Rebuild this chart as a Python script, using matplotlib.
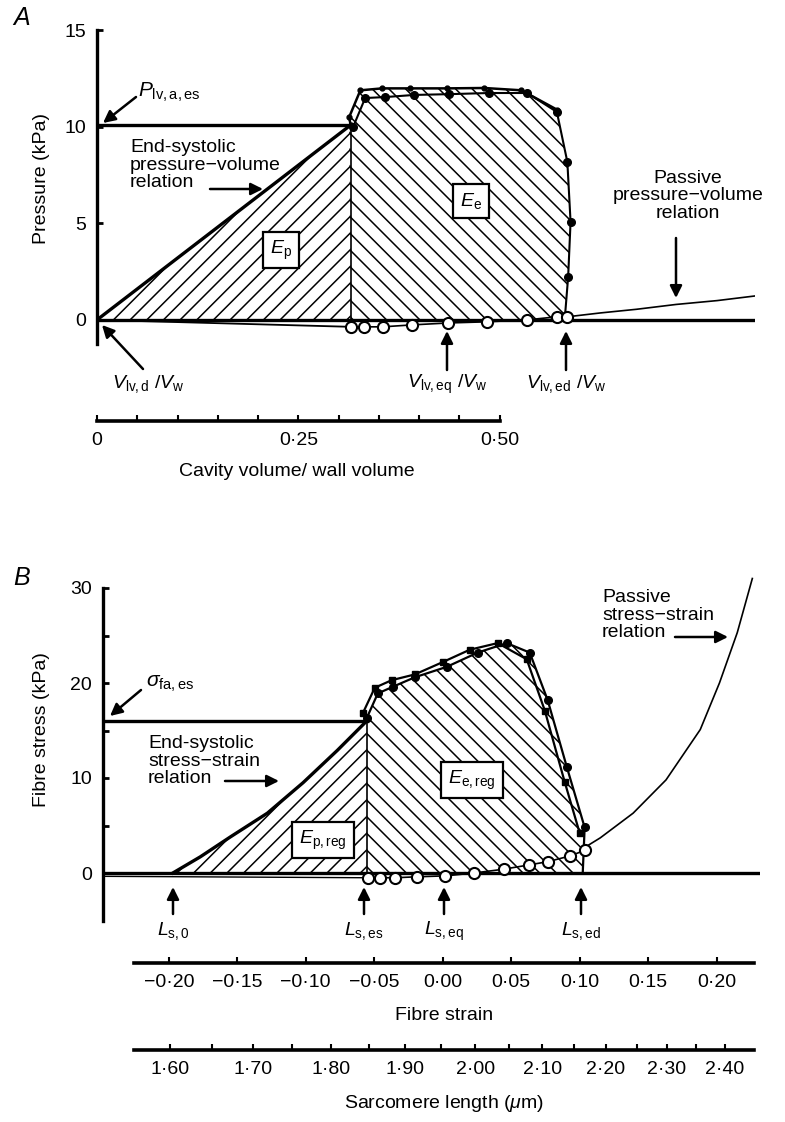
import numpy as np
import matplotlib
matplotlib.use('Agg')
import matplotlib.pyplot as plt

plt.rcParams['font.family'] = ['Liberation Sans', 'DejaVu Sans']
plt.rcParams['mathtext.fontset'] = 'custom'
plt.rcParams['mathtext.rm'] = 'Liberation Sans'
plt.rcParams['mathtext.it'] = 'Liberation Sans:italic'
plt.rcParams['mathtext.bf'] = 'Liberation Sans:bold'
plt.rcParams['hatch.linewidth'] = 1.1

# ---------------- Panel A data (cavity volume / wall volume, pressure kPa)
a_es_vol = [0.0, 0.315]
a_es_p = [0.0, 10.1]
a_p_es = 10.1
a_fill_line_vol = [0.0, 0.3155]
a_fill_line_p = [0.0, -0.36]
a_ej1_vol = [0.318, 0.333, 0.358, 0.394, 0.437, 0.487, 0.534, 0.571, 0.584, 0.588, 0.585, 0.581]
a_ej1_p = [10.0, 11.5, 11.55, 11.66, 11.7, 11.76, 11.76, 10.78, 8.19, 5.08, 2.23, 0.16]
a_ej2_vol = [0.315, 0.313, 0.327, 0.354, 0.389, 0.434, 0.481, 0.527, 0.571]
a_ej2_p = [10.1, 10.5, 11.9, 12.0, 12.0, 12.0, 12.02, 11.9, 10.9]
a_open_vol = [0.3155, 0.332, 0.355, 0.391, 0.436, 0.484, 0.534, 0.571, 0.584]
a_open_p = [-0.36, -0.36, -0.36, -0.26, -0.16, -0.1, 0.0, 0.16, 0.16]
a_pass_vol = [0.584, 0.625, 0.67, 0.719, 0.77, 0.817]
a_pass_p = [0.16, 0.36, 0.55, 0.8, 1.0, 1.24]
a_xticks = [0.0, 0.25, 0.50]
a_xticklabels = ['0', '0·25', '0·50']
a_yticks = [0, 5, 10, 15]

# ---------------- Panel B data (fibre strain, fibre stress kPa)
b_es_strain = [-0.197, -0.177, -0.155, -0.128, -0.102, -0.077, -0.0555]
b_es_stress = [0.0, 1.7, 3.8, 6.3, 9.5, 12.9, 16.0]
b_sig_es = 16.0
b_fill_line_strain = [-0.248, -0.0547]
b_fill_line_stress = [-0.35, -0.5]
b_ej1_strain = [-0.0555, -0.0474, -0.0365, -0.0204, 0.0029, 0.0255, 0.0467, 0.0635, 0.0766, 0.0905, 0.1036, 0.1022]
b_ej1_stress = [16.3, 18.9, 19.6, 20.6, 21.7, 23.2, 24.2, 23.2, 18.2, 11.2, 4.8, 0.0]
b_ej2_strain = [-0.0584, -0.0496, -0.0372, -0.0204, 0.0, 0.0197, 0.0401, 0.0613, 0.0745, 0.089, 0.100]
b_ej2_stress = [16.8, 19.5, 20.3, 20.9, 22.2, 23.5, 24.2, 22.5, 17.1, 9.6, 4.2]
b_open_strain = [-0.0547, -0.046, -0.035, -0.019, 0.002, 0.023, 0.0445, 0.063, 0.077, 0.093, 0.104]
b_open_stress = [-0.5, -0.5, -0.5, -0.4, -0.3, 0.0, 0.4, 0.85, 1.2, 1.8, 2.4]
b_pass_strain = [0.106, 0.115, 0.139, 0.163, 0.188, 0.202, 0.215, 0.226]
b_pass_stress = [2.9, 3.7, 6.3, 9.8, 15.1, 20.0, 25.3, 31.0]
b_strain_ticks = [-0.20, -0.15, -0.10, -0.05, 0.00, 0.05, 0.10, 0.15, 0.20]
b_strain_labels = ['−0·20', '−0·15', '−0·10', '−0·05', '0·00', '0·05', '0·10', '0·15', '0·20']
b_sarc_ticks = [1.60, 1.65, 1.70, 1.75, 1.80, 1.85, 1.90, 1.95, 2.00, 2.05,
                2.10, 2.15, 2.20, 2.25, 2.30, 2.35, 2.40]
b_sarc_labels = ['1·60', '', '1·70', '', '1·80', '', '1·90', '', '2·00', '',
                 '2·10', '', '2·20', '', '2·30', '', '2·40']
b_yticks = [0, 5, 10, 15, 20, 25, 30]
b_yticklabels = ['0', '', '10', '', '20', '', '30']
sarc_ref = 1.953  # sarcomere length at zero fibre strain (µm)

W, H = 785, 1122
fig = plt.figure(figsize=(W / 100, H / 100), dpi=100)
FS = 14


def P(x, y):
    return (x / W, 1 - y / H)


def arrow(x0, y0, x1, y1):
    fig.add_artist(matplotlib.patches.FancyArrowPatch(
        P(x0, y0), P(x1, y1), transform=fig.transFigure,
        arrowstyle='-|>', mutation_scale=18, lw=1.8, color='k',
        shrinkA=0, shrinkB=0))


def txt(x, y, s, **kw):
    kw.setdefault('fontsize', FS)
    fig.text(*P(x, y), s, **kw)


box = dict(boxstyle='square,pad=0.35', fc='white', ec='black', lw=1.6)

# =============== Panel A ===============
axA = fig.add_axes([97 / W, 1 - 344 / H, 658 / W, (344 - 30.5) / H])
axA.set_xlim(0, 0.817)
axA.set_ylim(-1.25, 15)
for s in ['top', 'right']:
    axA.spines[s].set_visible(False)
axA.spines['left'].set_linewidth(2.4)
axA.spines['left'].set_bounds(-1.25, 15)
axA.spines['bottom'].set_linewidth(2.6)
axA.spines['bottom'].set_position(('outward', 55.4))
axA.spines['bottom'].set_bounds(0, 0.5)
axA.set_xticks(a_xticks)
axA.set_xticklabels(a_xticklabels)
axA.set_xticks(np.arange(0, 0.501, 0.05), minor=True)
axA.set_yticks(a_yticks)
axA.tick_params(axis='x', which='both', direction='in', length=4, width=1.5, labelsize=FS, pad=8)
axA.tick_params(axis='y', direction='in', length=4, width=2, labelsize=FS, pad=8)

axA.fill(a_es_vol + [a_es_vol[-1]], a_es_p + [0], facecolor='none', edgecolor='k',
         hatch='//', linewidth=0, zorder=1)
axA.fill([a_es_vol[-1]] + a_ej2_vol[1:] + a_ej1_vol[-4:] + [a_ej1_vol[-1]],
         [0] + a_ej2_p[1:] + a_ej1_p[-4:] + [0], facecolor='none', edgecolor='k',
         hatch='\\\\', linewidth=0, zorder=1)
axA.plot([0, 0.817], [0, 0], color='k', lw=2.4, zorder=2)
axA.plot([0, a_es_vol[-1]], [a_p_es, a_p_es], color='k', lw=2.4, zorder=2)
axA.plot(a_es_vol, a_es_p, color='k', lw=2.4, zorder=2)
axA.plot([a_es_vol[-1], a_es_vol[-1]], [0, a_p_es], color='k', lw=1.2, zorder=2)
axA.plot(a_fill_line_vol, a_fill_line_p, color='k', lw=1.3, zorder=2)
axA.plot(a_ej2_vol, a_ej2_p, color='k', lw=1.8, marker='o', ms=3.5, zorder=3)
axA.plot(a_ej1_vol, a_ej1_p, color='k', lw=1.5, marker='o', ms=5.5, zorder=3)
axA.plot(a_pass_vol, a_pass_p, color='k', lw=1.2, zorder=2)
axA.plot(a_open_vol, a_open_p, color='k', lw=1.2, marker='o', ms=8, mfc='white',
         mec='k', mew=1.5, zorder=4)

txt(22, 18, 'A', fontsize=18, style='italic', ha='center', va='center')
txt(42, 178, 'Pressure (kPa)', rotation=90, ha='center', va='center')
txt(297, 472, 'Cavity volume/ wall volume', ha='center', va='center')
txt(138, 92, r'$P_{\mathrm{lv,a,es}}$', ha='left', va='center', fontsize=15)
arrow(136, 97, 103, 123)
txt(130, 165, 'End-systolic\npressure−volume\nrelation', ha='left', va='center',
    linespacing=1.05)
arrow(210, 189, 263, 189)
txt(688, 196, 'Passive\npressure−volume\nrelation', ha='center', va='center',
    linespacing=1.05)
arrow(676, 238, 676, 298)
txt(281, 250, r'$E_{\mathrm{p}}$', ha='center', va='center', bbox=box, zorder=5)
txt(471, 201, r'$E_{\mathrm{e}}$', ha='center', va='center', bbox=box, zorder=5)
txt(148, 384, r'$V_{\mathrm{lv,d}}\ /V_{\mathrm{w}}$', ha='center', va='center')
arrow(143, 369, 102, 325)
txt(447, 384, r'$V_{\mathrm{lv,eq}}\ /V_{\mathrm{w}}$', ha='center', va='center')
arrow(447, 370, 447, 331)
txt(566, 384, r'$V_{\mathrm{lv,ed}}\ /V_{\mathrm{w}}$', ha='center', va='center')
arrow(566, 370, 566, 331)

# =============== Panel B ===============
xl = (-0.248, 0.2316)
axB = fig.add_axes([103 / W, 1 - 920.5 / H, 657 / W, (920.5 - 573.75) / H])
axB.set_xlim(*xl)
axB.set_ylim(-5, 31.5)
for s in ['top', 'right']:
    axB.spines[s].set_visible(False)
axB.spines['left'].set_linewidth(2.4)
axB.spines['left'].set_bounds(-5, 30)
axB.spines['bottom'].set_linewidth(2.6)
axB.spines['bottom'].set_position(('outward', 30.6))
axB.spines['bottom'].set_bounds(-0.2255, 0.227)
axB.set_xticks(b_strain_ticks)
axB.set_xticklabels(b_strain_labels)
axB.set_yticks(b_yticks)
axB.set_yticklabels(b_yticklabels)
axB.tick_params(axis='x', direction='in', length=4, width=1.5, labelsize=FS, pad=8)
axB.tick_params(axis='y', direction='in', length=4, width=2, labelsize=FS, pad=8)

axB.fill(b_es_strain + [b_es_strain[-1]], b_es_stress + [0], facecolor='none',
         edgecolor='k', hatch='//', linewidth=0, zorder=1)
axB.fill([b_es_strain[-1]] + b_ej1_strain, [0] + b_ej1_stress, facecolor='none',
         edgecolor='k', hatch='\\\\', linewidth=0, zorder=1)
axB.plot(list(xl), [0, 0], color='k', lw=2.4, zorder=2)
axB.plot(b_fill_line_strain, b_fill_line_stress, color='k', lw=1.0, zorder=2)
axB.plot([xl[0], b_es_strain[-1]], [b_sig_es, b_sig_es], color='k', lw=2.4, zorder=2)
axB.plot(b_es_strain, b_es_stress, color='k', lw=2.4, zorder=2)
axB.plot([b_es_strain[-1], b_es_strain[-1]], [0, b_sig_es], color='k', lw=1.2, zorder=2)
axB.plot(b_ej2_strain, b_ej2_stress, color='k', lw=1.6, marker='s', ms=4, zorder=3)
axB.plot(b_ej1_strain[:-1], b_ej1_stress[:-1], color='k', lw=1.6, marker='o', ms=5.5, zorder=3)
axB.plot(b_ej1_strain[-2:], b_ej1_stress[-2:], color='k', lw=1.6, zorder=3)
axB.plot(b_pass_strain, b_pass_stress, color='k', lw=1.2, zorder=2)
axB.plot(b_open_strain, b_open_stress, color='k', lw=1.2, marker='o', ms=8,
         mfc='white', mec='k', mew=1.5, zorder=4)

# sarcomere length axis
axS = fig.add_axes([103 / W, 1 - 1050 / H, 657 / W, 0.0001])
axS.set_xlim(*xl)
axS.set_ylim(0, 1)
for s in ['top', 'right', 'left']:
    axS.spines[s].set_visible(False)
axS.spines['bottom'].set_linewidth(2.6)
axS.spines['bottom'].set_bounds(-0.2255, 0.227)
axS.set_yticks([])
axS.set_xticks(np.log(np.array(b_sarc_ticks) / sarc_ref))
axS.set_xticklabels(b_sarc_labels)
axS.tick_params(axis='x', direction='in', length=4, width=1.5, labelsize=FS, pad=8)
axS.patch.set_visible(False)

txt(22, 578, 'B', fontsize=18, style='italic', ha='center', va='center')
txt(42, 730, 'Fibre stress (kPa)', rotation=90, ha='center', va='center')
txt(444, 1016, 'Fibre strain', ha='center', va='center')
txt(444, 1104, r'Sarcomere length ($\mu$m)', ha='center', va='center')
txt(146, 684, r'$\sigma_{\mathrm{fa,es}}$', ha='left', va='center', fontsize=15)
arrow(141, 690, 110, 716)
txt(148, 761, 'End-systolic\nstress−strain\nrelation', ha='left', va='center',
    linespacing=1.05)
arrow(225, 781, 279, 781)
txt(602, 615, 'Passive\nstress−strain\nrelation', ha='left', va='center',
    linespacing=1.05)
arrow(675, 637, 728, 637)
txt(323, 840, r'$E_{\mathrm{p,reg}}$', ha='center', va='center', bbox=box, zorder=5)
txt(472, 780, r'$E_{\mathrm{e,reg}}$', ha='center', va='center', bbox=box, zorder=5)
for xp, lab in [(173, r'$L_{\mathrm{s,0}}$'), (364, r'$L_{\mathrm{s,es}}$'),
                (444, r'$L_{\mathrm{s,eq}}$'), (581, r'$L_{\mathrm{s,ed}}$')]:
    arrow(xp, 914, xp, 887)
    txt(xp, 931, lab, ha='center', va='center')

fig.savefig('out.png', dpi=100)
